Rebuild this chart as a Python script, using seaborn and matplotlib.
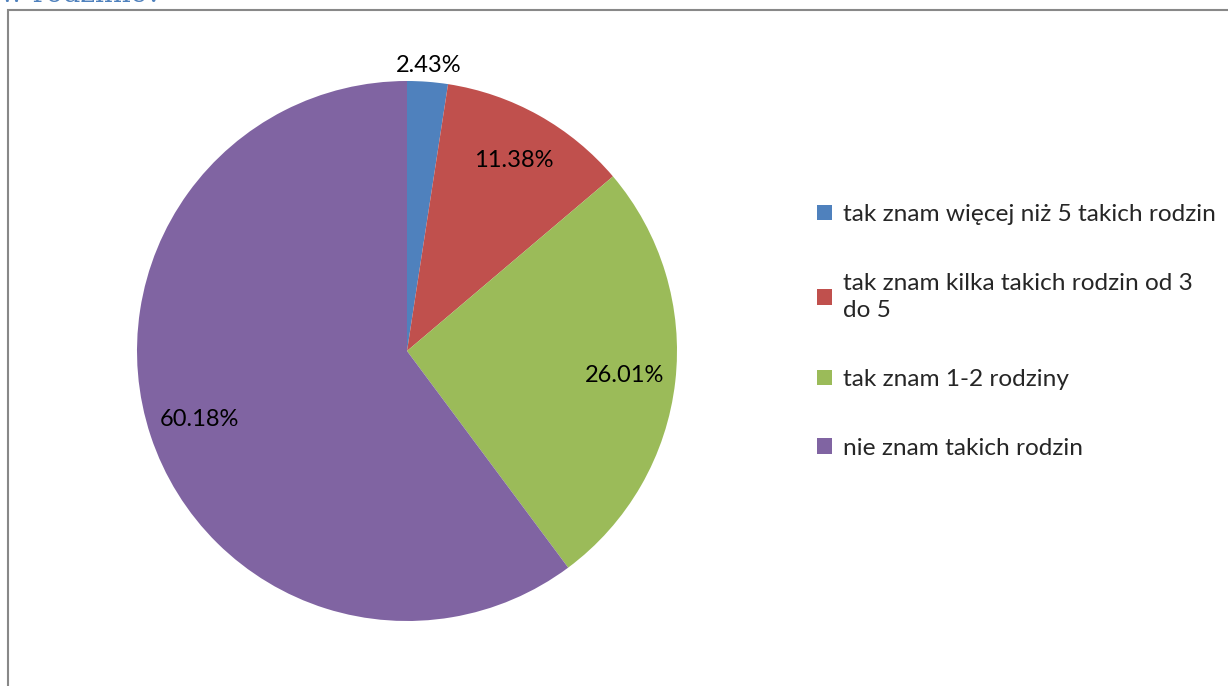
import matplotlib
matplotlib.use("Agg")
import matplotlib.pyplot as plt
import seaborn as sns
from matplotlib.patches import Rectangle

# data
labels = ["tak znam więcej niż 5 takich rodzin",
          "tak znam kilka takich rodzin od 3\ndo 5",
          "tak znam 1-2 rodziny",
          "nie znam takich rodzin"]
shares = [2.43, 11.38, 26.01, 60.18]
colors = ["#4F81BD", "#C0504D", "#9BBB59", "#8064A2"]

sns.set_style("white")
plt.rcParams['font.family'] = ['Lato', 'DejaVu Sans']

fig = plt.figure(figsize=(12.28, 6.86), dpi=100)
ax = fig.add_axes([0, 0, 1, 1])

cx, cy, r = 407, 686 - 351, 270
wedges, texts, autotexts = ax.pie(
    shares, colors=colors, startangle=90, counterclock=False,
    center=(cx, cy), radius=r, autopct='%.2f%%', pctdistance=0.81,
    textprops={'fontsize': 17, 'color': 'black'}, frame=True,
    wedgeprops={'linewidth': 0})
ax.set_xlim(0, 1228)
ax.set_ylim(0, 686)
ax.set_aspect('equal')
ax.axis('off')

# the small slice label sits outside the pie
x, y = autotexts[0].get_position()
autotexts[0].set_position((cx + (x - cx) * 1.06 / 0.81, cy + (y - cy) * 1.06 / 0.81))

leg = ax.legend(wedges, labels, loc='upper left', bbox_to_anchor=(817 / 1228, 1 - 204 / 686),
                frameon=False, fontsize=17.6, handlelength=0.6, handleheight=0.6,
                handletextpad=0.45, labelspacing=1.95, borderpad=0, borderaxespad=0)
for t in leg.get_texts():
    t.set_linespacing(1.4)

# chart frame
fig.patches.append(Rectangle((8 / 1228, -0.05), 1.1, 1 - 10 / 686 + 0.05,
                             transform=fig.transFigure, fill=False,
                             edgecolor='#888888', linewidth=1.5))

# clipped heading from the page above
fig.text(0.0, 1.0 + 5 / 686, "w rodzinie?", color="#4F81BD", fontsize=20,
         family='DejaVu Serif', va='center', ha='left')

fig.savefig("out.png", dpi=100)
